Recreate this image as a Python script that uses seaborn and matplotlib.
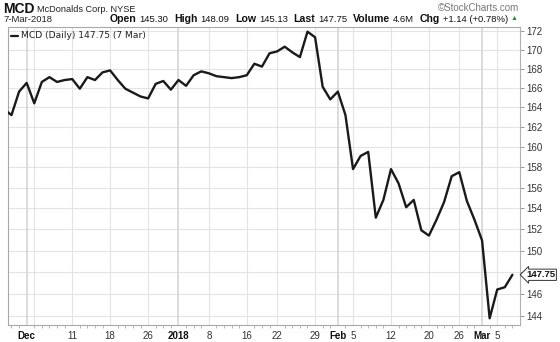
import matplotlib
matplotlib.use("Agg")
import matplotlib.pyplot as plt
import matplotlib.transforms as mtransforms
from matplotlib.ticker import FixedLocator, NullLocator, FixedFormatter
import numpy as np
import pandas as pd
import seaborn as sns

# ---------------- data ----------------
dates = ["Nov 28", "Nov 29", "Nov 30",
         "Dec 1", "Dec 4", "Dec 5", "Dec 6", "Dec 7", "Dec 8", "Dec 11", "Dec 12", "Dec 13",
         "Dec 14", "Dec 15", "Dec 18", "Dec 19", "Dec 20", "Dec 21", "Dec 22", "Dec 26",
         "Dec 27", "Dec 28", "Dec 29",
         "Jan 2", "Jan 3", "Jan 4", "Jan 5", "Jan 8", "Jan 9", "Jan 10", "Jan 11", "Jan 12",
         "Jan 16", "Jan 17", "Jan 18", "Jan 19", "Jan 22", "Jan 23", "Jan 24", "Jan 25",
         "Jan 26", "Jan 29", "Jan 30", "Jan 31",
         "Feb 1", "Feb 2", "Feb 5", "Feb 6", "Feb 7", "Feb 8", "Feb 9", "Feb 12", "Feb 13",
         "Feb 14", "Feb 15", "Feb 16", "Feb 20", "Feb 21", "Feb 22", "Feb 23", "Feb 26",
         "Feb 27", "Feb 28",
         "Mar 1", "Mar 2", "Mar 5", "Mar 6", "Mar 7"]
closes = [163.8, 163.2, 165.6,
          166.5, 164.4, 166.6, 167.1, 166.6, 166.8, 166.9, 165.9, 167.1,
          166.8, 167.6, 167.8, 166.8, 165.9, 165.5, 165.1, 164.9,
          166.4, 166.7, 165.8,
          166.8, 166.2, 167.3, 167.7, 167.5, 167.2, 167.1, 167.0, 167.1,
          167.3, 168.5, 168.2, 169.6, 169.8, 170.3, 169.7, 169.2,
          171.9, 171.3, 166.1, 164.8,
          165.6, 163.2, 157.8, 159.1, 159.5, 153.1, 154.8, 157.8, 156.4,
          154.1, 154.8, 151.9, 151.4, 152.9, 154.6, 157.1, 157.5,
          154.7, 152.9,
          150.95, 143.8, 146.4, 146.61, 147.75]

tick_dates = ["Dec 1", "Dec 11", "Dec 18", "Dec 26", "Jan 2", "Jan 8", "Jan 16", "Jan 22",
              "Jan 29", "Feb 1", "Feb 5", "Feb 12", "Feb 20", "Feb 26", "Mar 1", "Mar 5"]
tick_labels = ["Dec", "11", "18", "26", "2018", "8", "16", "22",
               "29", "Feb", "5", "12", "20", "26", "Mar", "5"]
bold_labels = ["Dec", "2018", "Feb", "Mar"]
month_starts = ["Dec 1", "Jan 2", "Feb 1", "Mar 1"]
week_starts = ["Dec 4", "Dec 11", "Dec 18", "Dec 26", "Jan 8", "Jan 16", "Jan 22",
               "Jan 29", "Feb 5", "Feb 12", "Feb 20", "Feb 26", "Mar 5"]
y_ticks = [144, 146, 148, 150, 152, 154, 156, 158, 160, 162, 164, 166, 168, 170, 172]
# 148 is hidden behind the last-value box in the reference
y_tick_labels = ["144", "146", "", "150", "152", "154", "156", "158", "160", "162",
                 "164", "166", "168", "170", "172"]

header_pieces = [("Open", "bold"), ("145.30", "normal"), ("High", "bold"), ("148.09", "normal"),
                 ("Low", "bold"), ("145.13", "normal"), ("Last", "bold"), ("147.75", "normal"),
                 ("Volume", "bold"), ("4.6M", "normal"), ("Chg", "bold"),
                 ("+1.14 (+0.78%)", "normal")]

df = pd.DataFrame({"date": dates, "close": closes})
df["idx"] = np.arange(len(df))
pos = {d: i for i, d in enumerate(dates)}

# ---------------- figure ----------------
W, H = 560, 342
sns.set_style("white")
plt.rcParams["font.family"] = ["Liberation Sans", "DejaVu Sans"]
fig = plt.figure(figsize=(W / 100, H / 100), dpi=100)
ax = fig.add_axes([8 / W, (H - 325) / H, (520 - 8) / W, (325 - 27) / H])

sns.lineplot(data=df, x="idx", y="close", ax=ax, color="#1a1a1a", lw=1.7, zorder=5)

ax.set_yscale("log")
ax.set_ylim(143.2, 172.4)
d0 = pos["Dec 1"]
ax.set_xlim(d0 - 2.46, d0 + 65.0)

# gridlines
for v in y_ticks:
    ax.axhline(v, color="#e4e4e4", lw=0.8, zorder=1)
for d in week_starts:
    ax.axvline(pos[d], color="#e4e4e4", lw=0.8, zorder=1)
for d in month_starts:
    ax.axvline(pos[d], color="#d2d2d2", lw=1.1, zorder=1)

# y axis on the right
ax.yaxis.tick_right()
ax.yaxis.set_major_locator(FixedLocator(y_ticks))
ax.yaxis.set_major_formatter(FixedFormatter(y_tick_labels))
ax.yaxis.set_minor_locator(NullLocator())
ax.tick_params(axis="y", which="major", length=3, width=0.6, color="#888888",
               labelsize=7, labelcolor="#333333", pad=1.5, right=True, left=False)

# x axis
ax.xaxis.set_major_locator(FixedLocator([pos[d] for d in tick_dates]))
ax.xaxis.set_major_formatter(FixedFormatter(tick_labels))
ax.xaxis.set_minor_locator(FixedLocator(df["idx"].tolist()))
ax.tick_params(axis="x", which="major", length=0, labelsize=7, labelcolor="#333333", pad=4)
ax.tick_params(axis="x", which="minor", length=2, width=0.5, color="#999999", bottom=True)
for lab in ax.get_xticklabels():
    if lab.get_text() in bold_labels:
        lab.set_fontweight("bold")
        lab.set_color("#111111")

ax.set_xlabel("")
ax.set_ylabel("")
for side in ["left", "top", "bottom"]:
    ax.spines[side].set_color("#a8a8a8")
    ax.spines[side].set_linewidth(0.8)
ax.spines["right"].set_color("#b0b0b0")
ax.spines["right"].set_linewidth(0.8)
ax.spines["right"].set_linestyle((0, (1, 1)))

# legend-like label inside plot
ax.plot([0.006, 0.02], [0.97, 0.97], transform=ax.transAxes, color="#1a1a1a", lw=1.6)
ax.text(0.026, 0.97, "MCD (Daily) 147.75 (7 Mar)", transform=ax.transAxes,
        family="DejaVu Sans", fontsize=6.6, color="#222222", va="center", ha="left")

# last-value box
trans = mtransforms.blended_transform_factory(ax.transAxes, ax.transData)
ax.text(1.012, closes[-1], f"{closes[-1]:.2f}", transform=trans, fontsize=6.8,
        fontweight="bold", color="#111111", va="center", ha="left", zorder=10,
        bbox=dict(boxstyle="larrow,pad=0.12", fc="white", ec="#333333", lw=0.7),
        clip_on=False)

# ---------------- header ----------------
def ftext(x, y, s, **kw):
    return fig.text(x / W, 1 - y / H, s, va="center", ha="left", **kw)

ftext(3, 9, "MCD", fontsize=10, fontweight="bold", color="#111111")
ftext(37, 9.5, "McDonalds Corp. NYSE", fontsize=6.6, color="#222222")
ftext(3, 19.5, "7-Mar-2018", fontsize=6.8, color="#222222")
fig.text(519 / W, 1 - 8 / H, "\u00a9StockCharts.com", va="center", ha="right",
         fontsize=7, color="#777777")

renderer = fig.canvas.get_renderer()
x = 110.0
for s, w in header_pieces:
    size = 7.6 if w == "bold" else 6.8
    t = ftext(x, 19.5, s, fontsize=size, fontweight=w, color="#111111")
    bb = t.get_window_extent(renderer)
    x += bb.width + (2.8 if w == "bold" else 5.8)
ftext(x - 3, 19, "\u25b2", fontsize=5, color="#2e8b2e")

fig.savefig("out.png", dpi=100)
